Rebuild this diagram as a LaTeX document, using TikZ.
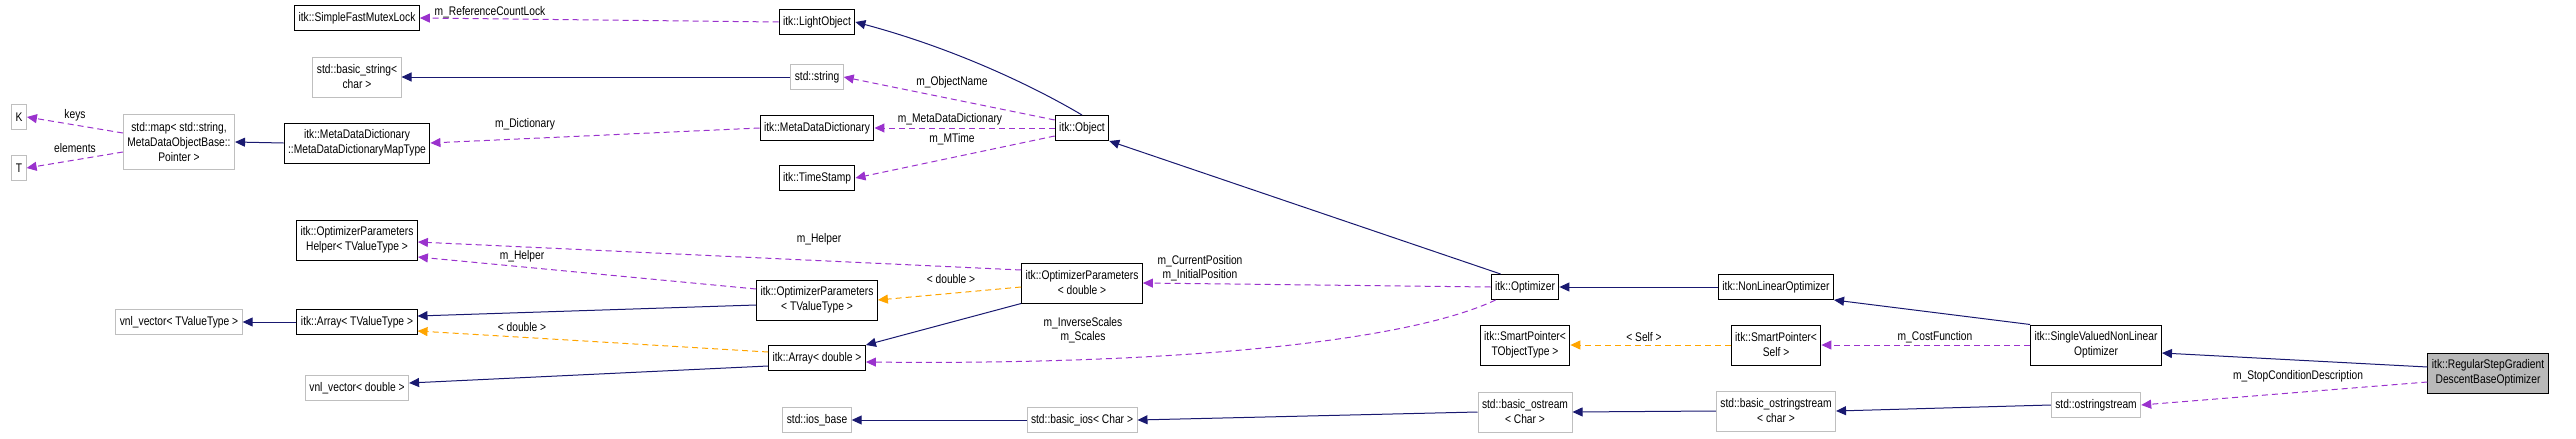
\documentclass[tikz,border=0pt]{standalone}
\usepackage{fontspec}
\setmainfont{Liberation Sans}[FakeStretch=0.82]
\usetikzlibrary{arrows.meta}
\definecolor{inhc}{HTML}{191970}
\definecolor{usec}{HTML}{9A32CD}
\definecolor{tplc}{HTML}{FFA500}
\definecolor{grayb}{HTML}{BFBFBF}
\tikzset{
  box/.style={draw=black,line width=1pt,fill=white,align=center,font=\fontsize{12.5}{15}\selectfont,inner xsep=4pt,inner ysep=2pt,minimum height=25pt},
  gbox/.style={box,draw=grayb},
  cur/.style={box,fill=gray!55},
  inh/.style={draw=inhc,line width=1pt,-{Triangle[length=10pt,width=9pt]}},
  use/.style={draw=usec,line width=1pt,dash pattern=on 6pt off 4pt,-{Triangle[length=10pt,width=9pt]}},
  tpl/.style={draw=tplc,line width=1pt,dash pattern=on 6pt off 4pt,-{Triangle[length=10pt,width=9pt]}},
  lbl/.style={font=\fontsize{12.5}{14}\selectfont,align=center,inner sep=0pt}
}
\begin{document}
\begin{tikzpicture}[x=1pt,y=-1pt]
\useasboundingbox (0,0) rectangle (2576,439);
% nodes
\node[box] (mutex) at (357,18) {itk::SimpleFastMutexLock};
\node[box] (light) at (817,22) {itk::LightObject};
\node[gbox,minimum height=40pt] (bstr) at (357,77) {std::basic\_string\textless\\char \textgreater};
\node[gbox] (str) at (817,77) {std::string};
\node[gbox] (K) at (19,117) {K};
\node[gbox] (T) at (19,168) {T};
\node[gbox,minimum height=55pt] (map) at (179,142) {std::map\textless{} std::string,\\MetaDataObjectBase::\\Pointer \textgreater};
\node[box,minimum height=40pt] (maptype) at (357,143) {itk::MetaDataDictionary\\::MetaDataDictionaryMapType};
\node[box] (mdd) at (817,128) {itk::MetaDataDictionary};
\node[box] (ts) at (817,178) {itk::TimeStamp};
\node[box] (obj) at (1082,128) {itk::Object};
\node[box,minimum height=40pt] (helper) at (357,240) {itk::OptimizerParameters\\Helper\textless{} TValueType \textgreater};
\node[box,minimum height=40pt] (optpT) at (817,300) {itk::OptimizerParameters\\\textless{} TValueType \textgreater};
\node[box,minimum height=40pt] (optpD) at (1082,283) {itk::OptimizerParameters\\\textless{} double \textgreater};
\node[box] (arrT) at (357,322) {itk::Array\textless{} TValueType \textgreater};
\node[gbox] (vnlT) at (179,322) {vnl\_vector\textless{} TValueType \textgreater};
\node[box] (arrD) at (817,358) {itk::Array\textless{} double \textgreater};
\node[gbox] (vnlD) at (357,388) {vnl\_vector\textless{} double \textgreater};
\node[gbox] (iosb) at (817,420) {std::ios\_base};
\node[gbox] (bios) at (1082,420) {std::basic\_ios\textless{} Char \textgreater};
\node[box] (opt) at (1525,287) {itk::Optimizer};
\node[box] (nlo) at (1776,287) {itk::NonLinearOptimizer};
\node[box,minimum height=40pt] (spT) at (1525,345) {itk::SmartPointer\textless\\TObjectType \textgreater};
\node[box,minimum height=40pt] (spS) at (1776,345) {itk::SmartPointer\textless\\Self \textgreater};
\node[box,minimum height=40pt] (svnlo) at (2096,345) {itk::SingleValuedNonLinear\\Optimizer};
\node[cur,minimum height=40pt] (reg) at (2488,373) {itk::RegularStepGradient\\DescentBaseOptimizer};
\node[gbox,minimum height=40pt] (bos) at (1525,412) {std::basic\_ostream\\\textless{} Char \textgreater};
\node[gbox,minimum height=40pt] (boss) at (1776,411) {std::basic\_ostringstream\\\textless{} char \textgreater};
\node[gbox] (oss) at (2096,405) {std::ostringstream};
% edges
\draw[use] (light.west) -- (mutex.east);
\draw[inh] (obj.north) .. controls (1040,90) and (960,50) .. (light.east);
\draw[inh] (str.west) -- (bstr.east);
\draw[use] (obj.west|-1051,120) -- (str.east);
\draw[use] (obj.west) -- (mdd.east);
\draw[use] (obj.west|-1051,136) -- (ts.east);
\draw[use] (mdd.west) -- (maptype.east);
\draw[inh] (maptype.west) -- (map.east);
\draw[use] (map.west|-0,133) -- (K.east);
\draw[use] (map.west|-0,152) -- (T.east);
\draw[inh] (opt.north west) ++(10,0) -- (obj.south east);
\draw[use] (optpD.west|-0,270) -- (helper.east|-0,242);
\draw[use] (optpT.west|-0,289) -- (helper.east|-0,257);
\draw[tpl] (optpD.west|-0,287) -- (optpT.east);
\draw[inh] (optpT.west|-0,305) -- (arrT.east|-0,316);
\draw[inh] (arrT.west) -- (vnlT.east);
\draw[tpl] (arrD.west|-0,352) -- (arrT.east|-0,331);
\draw[inh] (optpD.south west) -- (arrD.north east);
\draw[inh] (arrD.west|-0,366) -- (vnlD.east|-0,383);
\draw[use] (opt.west) -- (optpD.east);
\draw[use] (opt.south west) ++(5,0) .. controls (1400,345) and (1150,365) .. (arrD.east|-0,362);
\draw[inh] (nlo.west) -- (opt.east);
\draw[inh] (svnlo.north west) -- (nlo.south east);
\draw[inh] (reg.west|-0,367) -- (svnlo.east|-0,353);
\draw[tpl] (spS.west) -- (spT.east);
\draw[use] (svnlo.west) -- (spS.east);
\draw[use] (reg.west|-0,382) -- (oss.east);
\draw[inh] (oss.west) -- (boss.east);
\draw[inh] (boss.west) -- (bos.east);
\draw[inh] (bos.west) -- (bios.east);
\draw[inh] (bios.west) -- (iosb.east);
% labels
\node[lbl] (l1) at (490,12) {m\_ReferenceCountLock};
\node[lbl] (l2) at (952,82) {m\_ObjectName};
\node[lbl] (l3) at (950,119) {m\_MetaDataDictionary};
\node[lbl] (l4) at (952,139) {m\_MTime};
\node[lbl] (l5) at (525,124) {m\_Dictionary};
\node[lbl] (l6) at (75,115) {keys};
\node[lbl] (l7) at (75,148) {elements};
\node[lbl] (l8) at (819,239) {m\_Helper};
\node[lbl] (l9) at (522,256) {m\_Helper};
\node[lbl] (l10) at (951,279) {\textless{} double \textgreater};
\node[lbl] (l11) at (522,327) {\textless{} double \textgreater};
\node[lbl] (l12) at (1200,268) {m\_CurrentPosition\\m\_InitialPosition};
\node[lbl] (l13) at (1083,330) {m\_InverseScales\\m\_Scales};
\node[lbl] (l14) at (1935,337) {m\_CostFunction};
\node[lbl] (l15) at (1644,337) {\textless{} Self \textgreater};
\node[lbl] (l16) at (2298,376) {m\_StopConditionDescription};
\end{tikzpicture}
\end{document}
